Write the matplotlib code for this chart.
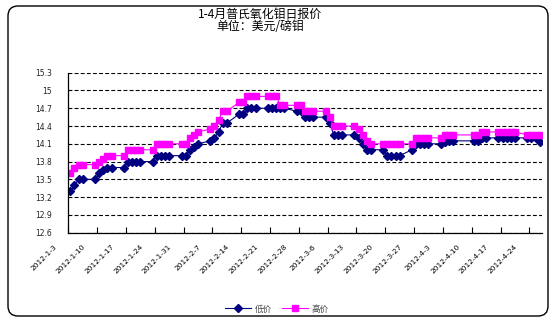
import pandas as pd
import numpy as np
import matplotlib
matplotlib.use("Agg")
import matplotlib.pyplot as plt
import matplotlib.transforms as mtransforms
from matplotlib.patches import FancyBboxPatch
from matplotlib.lines import Line2D

plt.rcParams['font.family'] = ['Noto Sans CJK SC', 'DejaVu Sans']

# trading days (Good Friday / Easter Monday have no quote)
start, end = '2012-01-03', '2012-04-26'
holidays = ['2012-04-06', '2012-04-09']
trade_days = pd.bdate_range(start, end).drop(pd.to_datetime(holidays))

# 低价 (USD/lb Mo)
low = [13.3, 13.4, 13.5, 13.5,
       13.5, 13.6, 13.65, 13.7, 13.7,
       13.7, 13.8, 13.8, 13.8, 13.8,
       13.8, 13.9, 13.9, 13.9, 13.9,
       13.9, 13.9, 14.0, 14.05, 14.1,
       14.15, 14.2, 14.3, 14.45, 14.45,
       14.6, 14.6, 14.7, 14.7, 14.7,
       14.7, 14.7, 14.7, 14.7, 14.7,
       14.65, 14.65, 14.55, 14.55, 14.55,
       14.55, 14.45, 14.25, 14.25, 14.25,
       14.25, 14.2, 14.1, 14.0, 14.0,
       14.0, 13.9, 13.9, 13.9, 13.9,
       14.0, 14.1, 14.1, 14.1, 14.1,
       14.1, 14.13, 14.15, 14.15,
       14.15, 14.15, 14.2, 14.2,
       14.2, 14.2, 14.2, 14.2, 14.2,
       14.2, 14.2, 14.2, 14.13]

# 高价
high = [13.6, 13.7, 13.75, 13.75,
        13.75, 13.8, 13.85, 13.9, 13.9,
        13.9, 14.0, 14.0, 14.0, 14.0,
        14.0, 14.1, 14.1, 14.1, 14.1,
        14.1, 14.1, 14.2, 14.25, 14.3,
        14.35, 14.4, 14.5, 14.65, 14.65,
        14.8, 14.8, 14.9, 14.9, 14.9,
        14.9, 14.9, 14.9, 14.75, 14.75,
        14.75, 14.75, 14.65, 14.65, 14.65,
        14.65, 14.55, 14.4, 14.4, 14.4,
        14.4, 14.35, 14.25, 14.15, 14.1,
        14.1, 14.1, 14.1, 14.1, 14.1,
        14.1, 14.2, 14.2, 14.2, 14.2,
        14.2, 14.25, 14.25, 14.25,
        14.25, 14.25, 14.3, 14.3,
        14.3, 14.3, 14.3, 14.3, 14.3,
        14.25, 14.25, 14.25, 14.25]

label_days = pd.date_range(start, end, freq='7D')
tick_labels = [f"{d.year}-{d.month}-{d.day}" for d in label_days]
y_ticks = [12.6, 12.9, 13.2, 13.5, 13.8, 14.1, 14.4, 14.7, 15.0, 15.3]

t0 = pd.Timestamp(start)
x = (trade_days - t0).days
n_days = (pd.Timestamp(end) - t0).days + 1

fig = plt.figure(figsize=(5.54, 3.22), dpi=100)
ax = fig.add_axes([68.3 / 554, 1 - 232.7 / 322, (541.7 - 68.3) / 554, (232.7 - 72.7) / 322])

ax.plot(x, low, color='#000080', lw=0.8, marker='D', ms=3.7, mec='#000080', mfc='#000080')
ax.plot(x, high, color='#FF00FF', lw=0.8, marker='s', ms=4.2, mec='#FF00FF', mfc='#FF00FF')

ax.set_xlim(-0.5, n_days - 0.5)
ax.set_ylim(12.6, 15.3)
ax.set_yticks(y_ticks)
ax.set_yticklabels(["15" if v == 15.0 else f"{v:.1f}" for v in y_ticks],
                   fontsize=5.5, color='#222222', family='DejaVu Sans')
ax.tick_params(axis='y', length=0, pad=12)
ax.yaxis.grid(True, color='black', lw=0.8, linestyle=(0, (3.5, 2)))
ax.set_axisbelow(True)

ax.set_xticks((label_days - t0).days)
ax.set_xticklabels(tick_labels, fontsize=5.3, family='DejaVu Sans')
ax.set_xticks(np.arange(-0.5, n_days, 7), minor=True)
ax.tick_params(axis='x', which='major', length=0, pad=0)
ax.tick_params(axis='x', which='minor', direction='in', length=4, width=0.8)
off = mtransforms.ScaledTranslation(-15 / 100, -13 / 100, fig.dpi_scale_trans)
for lab in ax.get_xticklabels():
    lab.set_rotation(45)
    lab.set_rotation_mode('anchor')
    lab.set_ha('right')
    lab.set_va('center')
    lab.set_transform(lab.get_transform() + off)

for s in ['top', 'right']:
    ax.spines[s].set_visible(False)
for s in ['left', 'bottom']:
    ax.spines[s].set_linewidth(0.9)

fig.text(260 / 554, 1 - 14 / 322, "1-4月普氏氧化钼日报价", ha='center', va='center', fontsize=8.6)
fig.text(260 / 554, 1 - 26 / 322, "单位：美元/磅钼", ha='center', va='center', fontsize=8.6)

handles = [Line2D([], [], color='#000080', lw=0.8, marker='D', ms=3.7),
           Line2D([], [], color='#FF00FF', lw=0.8, marker='s', ms=4.2)]
fig.legend(handles, ['低价', '高价'], loc='center', bbox_to_anchor=(277 / 554, 1 - 309 / 322),
           ncol=2, frameon=False, fontsize=6.2, handlelength=3, columnspacing=1.2,
           handletextpad=0.4, labelcolor='#444444')

border = FancyBboxPatch((0.08, 0.06), 5.40, 3.10, boxstyle='round,pad=0,rounding_size=0.1',
                        transform=fig.dpi_scale_trans, fill=False, ec='black', lw=1)
fig.patches.append(border)

fig.savefig('out.png', dpi=100)
